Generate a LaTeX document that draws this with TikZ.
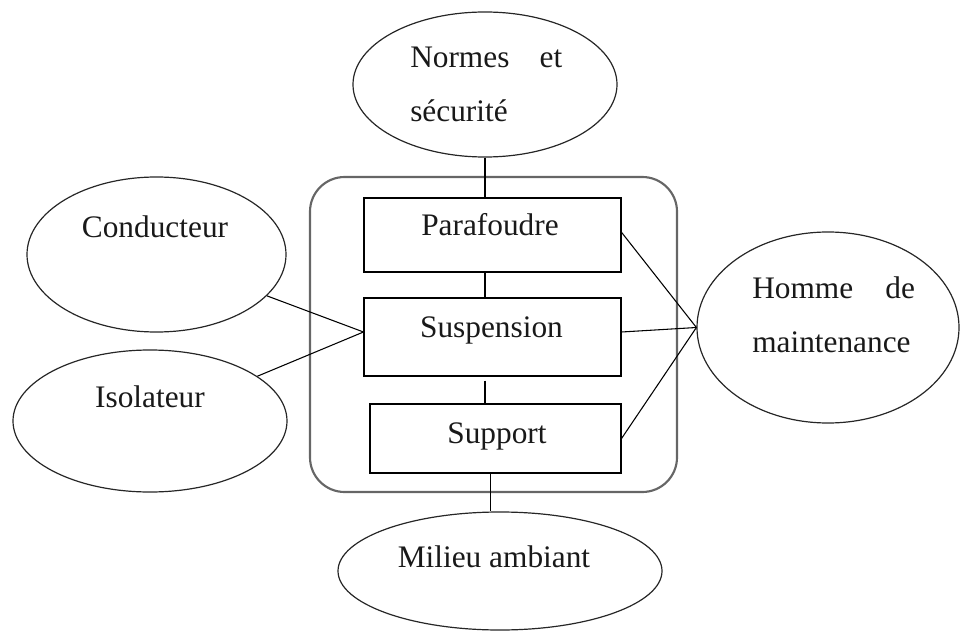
\documentclass[tikz,border=0pt]{standalone}
\usepackage{fontspec}
\setmainfont{Liberation Serif}
\usetikzlibrary{shapes.geometric}

\begin{document}
\begin{tikzpicture}[
  x=0.75pt, y=-0.75pt,
  font=\fontsize{23.5pt}{40pt}\selectfont,
  oval/.style={draw=black!85, line width=0.9pt, ellipse, inner sep=0pt},
  part/.style={draw=black, line width=0.8pt, rectangle, inner sep=0pt},
  holder/.style={draw=black!60, line width=1.6pt, rectangle, rounded corners=26pt, inner sep=0pt},
  link/.style={draw=black, line width=0.8pt},
  lbl/.style={inner sep=0pt, text=black!90}
]
\useasboundingbox (0,0) rectangle (960,631);

% surrounding ellipses
\node[oval, minimum width=198pt, minimum height=108.75pt] (normes) at (485,84.5) {};
\node[oval, minimum width=194.25pt, minimum height=116.25pt] (cond) at (156.5,254.5) {};
\node[oval, minimum width=205.5pt, minimum height=106.5pt] (iso) at (150,421) {};
\node[oval, minimum width=243pt, minimum height=88.5pt] (milieu) at (500,571) {};
\node[oval, minimum width=196.5pt, minimum height=143.25pt] (homme) at (828,327.5) {};

% the line assembly and its three parts
\node[holder, minimum width=275.25pt, minimum height=236.25pt] (frame) at (493.5,334.5) {};
\node[part, minimum width=192.75pt, minimum height=55.5pt] (para) at (492.5,235) {};
\node[part, minimum width=192.75pt, minimum height=58.5pt] (susp) at (492.5,337) {};
\node[part, minimum width=188.25pt, minimum height=51.75pt] (supp) at (495.5,438.5) {};

% labels
\node[lbl, anchor=base west] (tnormes) at (410,68) {\makebox[114pt][s]{Normes\hfill et}};
\node[lbl, anchor=base west] (tsecu) at (410,122) {sécurité};
\node[lbl, anchor=base west] (thomme) at (752,298) {\makebox[122pt][s]{Homme\hfill de}};
\node[lbl, anchor=base west] (tmaint) at (752,352) {maintenance};
\node[lbl, anchor=base] (tcond) at (155,237) {Conducteur};
\node[lbl, anchor=base] (tiso) at (150,407) {Isolateur};
\node[lbl, anchor=base] (tpara) at (490,235) {Parafoudre};
\node[lbl, anchor=base] (tsusp) at (491.5,337) {Suspension};
\node[lbl, anchor=base] (tsupp) at (497,443) {Support};
\node[lbl, anchor=base] (tmilieu) at (494,567) {Milieu ambiant};

% attachment points
\coordinate (sleft) at ([yshift=3.75pt]susp.west);
\coordinate (sright) at ([yshift=3.75pt]susp.east);

% connectors
\draw[link] (normes.south) -- (normes.south |- para.north);
\draw[link] (normes.south |- para.south) -- (normes.south |- susp.north);
\draw[link, shorten <=3pt] (normes.south |- susp.south) -- (normes.south |- supp.north);
\draw[link] ([xshift=-4pt]supp.south) -- ([xshift=-4pt]supp.south |- milieu.north);
\draw[link] (cond) -- (sleft);
\draw[link] (iso) -- (sleft);
\draw[link] ([yshift=2pt]para.east) -- (homme.west);
\draw[link] (sright) -- (homme.west);
\draw[link] (supp.east) -- (homme.west);
\end{tikzpicture}
\end{document}
